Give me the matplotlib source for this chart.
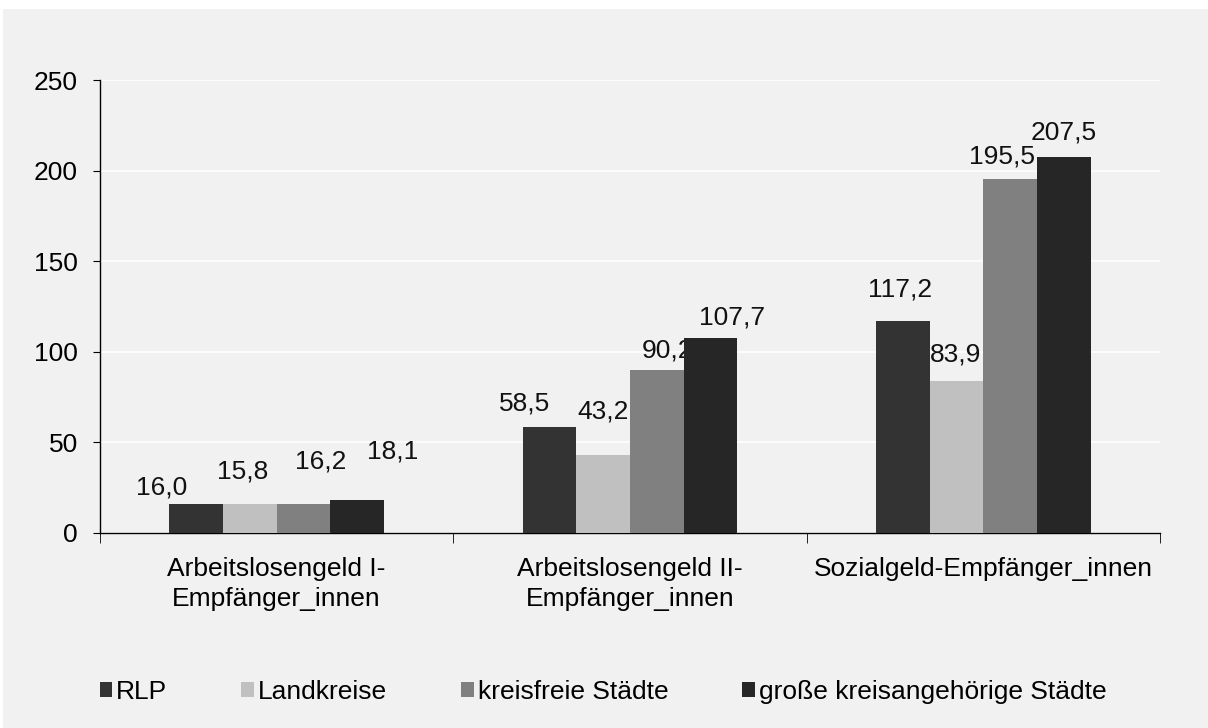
import numpy as np
import matplotlib.pyplot as plt
from matplotlib.patches import Rectangle

plt.rcParams['font.family'] = ['Liberation Sans', 'DejaVu Sans']

# Data
categories = ['Arbeitslosengeld I-\nEmpfänger_innen',
              'Arbeitslosengeld II-\nEmpfänger_innen',
              'Sozialgeld-Empfänger_innen']
series = ['RLP', 'Landkreise', 'kreisfreie Städte', 'große kreisangehörige Städte']
rlp = [16.0, 58.5, 117.2]
landkreise = [15.8, 43.2, 83.9]
kreisfrei = [16.2, 90.2, 195.5]
gross = [18.1, 107.7, 207.5]
values = [rlp, landkreise, kreisfrei, gross]
colors = ['#333333', '#c0c0c0', '#808080', '#262626']

# label offsets (pixels) per series / group, as placed in the original
lab_dx = [[-34, -25, -3], [-7, 0, -1], [17, 11, -8], [35, 22, 0]]
lab_dy = [[17, 23, 31], [33, 43, 26], [42, 19, 22], [49, 20, 25]]

fs = 19

fig = plt.figure(figsize=(12.08, 7.28), dpi=100, facecolor='#f1f1f1')
fig.patches.append(Rectangle((0, 1 - 9 / 728), 1, 9 / 728, transform=fig.transFigure,
                             facecolor='white', edgecolor='none', zorder=-1))
fig.patches.append(Rectangle((0, 0), 3 / 1208, 1, transform=fig.transFigure,
                             facecolor='white', edgecolor='none', zorder=-1))
ax = fig.add_axes([100 / 1208, 1 - 533 / 728, 1060 / 1208, 453 / 728])
ax.set_facecolor('#f1f1f1')

x = np.arange(len(categories))
w = 0.152
for i, (name, vals, c) in enumerate(zip(series, values, colors)):
    pos = x + (i - 1.5) * w
    ax.bar(pos, vals, width=w, color=c, label=name, zorder=3)
    for j, v in enumerate(vals):
        ax.annotate(f'{v:.1f}'.replace('.', ','), (pos[j], v),
                    xytext=(lab_dx[i][j], lab_dy[i][j]), textcoords='offset pixels',
                    ha='center', va='center', fontsize=fs, color='#111111')

ax.set_ylim(0, 250)
ax.set_yticks(np.arange(0, 251, 50))
ax.set_xlim(-0.5, 2.5)
ax.set_xticks(x)
ax.set_xticklabels(categories, fontsize=fs, linespacing=1.33)
ax.set_xticks([-0.5, 0.5, 1.5, 2.5], minor=True)
ax.tick_params(axis='x', which='major', length=0, pad=17)
ax.tick_params(axis='x', which='minor', length=7, direction='out')
ax.tick_params(axis='y', length=5, direction='out', labelsize=fs, pad=11)
ax.yaxis.grid(True, color='white', linewidth=1.2, zorder=0)
ax.set_axisbelow(True)
for s in ['top', 'right']:
    ax.spines[s].set_visible(False)
for s in ['left', 'bottom']:
    ax.spines[s].set_color('black')
    ax.spines[s].set_linewidth(1)

fig.legend(loc='center', bbox_to_anchor=(603 / 1208, 1 - 692 / 728), ncol=4, frameon=False,
           fontsize=fs, handlelength=0.48, handleheight=0.48, handletextpad=0.15,
           columnspacing=2.8)

fig.savefig('out.png', dpi=100, facecolor=fig.get_facecolor())
